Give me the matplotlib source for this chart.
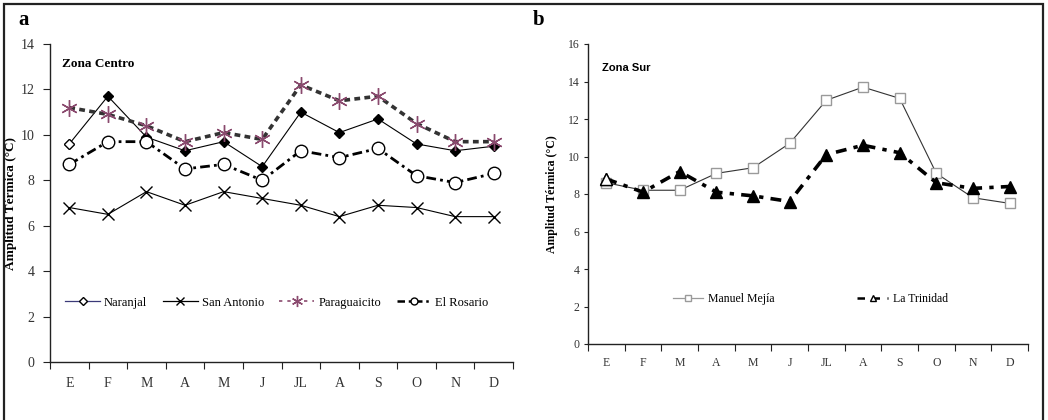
import matplotlib
matplotlib.use('Agg')
import matplotlib.pyplot as plt
from matplotlib.lines import Line2D
from matplotlib.patches import Rectangle
import numpy as np

# Data
meses = ['E', 'F', 'M', 'A', 'M', 'J', 'JL', 'A', 'S', 'O', 'N', 'D']

naranjal = [9.6, 11.7, 9.9, 9.3, 9.7, 8.6, 11.0, 10.1, 10.7, 9.6, 9.3, 9.5]
san_antonio = [6.8, 6.5, 7.5, 6.9, 7.5, 7.2, 6.9, 6.4, 6.9, 6.8, 6.4, 6.4]
paraguaicito = [11.2, 10.9, 10.4, 9.7, 10.1, 9.8, 12.2, 11.5, 11.7, 10.5,
                9.7, 9.7]
el_rosario = [8.7, 9.7, 9.7, 8.5, 8.7, 8.0, 9.3, 9.0, 9.4, 8.2, 7.9, 8.3]

manuel_mejia = [8.6, 8.2, 8.2, 9.1, 9.4, 10.7, 13.0, 13.7, 13.1, 9.1, 7.8,
                7.5]
la_trinidad = [8.8, 8.1, 9.2, 8.1, 7.9, 7.6, 10.1, 10.6, 10.2, 8.6, 8.3, 8.4]

plt.rcParams['font.family'] = ['Liberation Serif', 'DejaVu Serif']

fig = plt.figure(figsize=(10.48, 4.2), dpi=100)
fig.patches.append(Rectangle((4 / 1048, -0.01), 1039 / 1048, 1 - 4 / 420 + 0.01,
                             transform=fig.transFigure, fill=False,
                             edgecolor='#222222', linewidth=1.6))

ax1 = fig.add_axes([50 / 1048, 1 - 362 / 420, 463 / 1048, 318 / 420])
ax2 = fig.add_axes([588 / 1048, 1 - 344 / 420, 440 / 1048, 300 / 420])

x = np.arange(len(meses))


def style_axis(ax, ymax, tsize, xpad, ylen, ypad):
    for s in ['top', 'right']:
        ax.spines[s].set_visible(False)
    for s in ['left', 'bottom']:
        ax.spines[s].set_color('#222222')
        ax.spines[s].set_linewidth(1.0)
    ax.set_xlim(-0.5, len(meses) - 0.5)
    ax.set_ylim(0, ymax)
    ax.set_yticks(np.arange(0, ymax + 1, 2))
    ax.set_xticks(np.arange(-0.5, len(meses), 1))
    ax.set_xticklabels([])
    ax.set_xticks(x, minor=True)
    ax.set_xticklabels(meses, minor=True)
    ax.tick_params(axis='x', which='major', direction='out', length=5,
                   color='#222222')
    ax.tick_params(axis='x', which='minor', length=0, pad=xpad,
                   labelsize=tsize, labelcolor='#333333')
    ax.tick_params(axis='y', direction='out', length=ylen, color='#222222',
                   labelsize=tsize, labelcolor='#333333', pad=ypad)


# Panel a
ax1.plot(x, naranjal, color='black', linewidth=0.8, marker='D',
         markersize=5, markerfacecolor='black', markeredgecolor='black')
ax1.plot(x[:1], naranjal[:1], linestyle='none', marker='D', markersize=5,
         markerfacecolor='white', markeredgecolor='black', markeredgewidth=0.8)
ax1.plot(x, san_antonio, color='black', linewidth=0.8, marker='x',
         markersize=9, markeredgewidth=1.0)
ax1.plot(x, paraguaicito, color='#333333', linewidth=2.6,
         dashes=(1.6, 1.2), marker=(6, 2, 0), markersize=12,
         markeredgecolor='#8a4a6e', markeredgewidth=1.0)
ax1.plot(x, el_rosario, color='black', linewidth=2.0,
         dashes=(3.5, 1.5, 1.0, 1.5), marker='o', markersize=9,
         markerfacecolor='white', markeredgecolor='black',
         markeredgewidth=1.0)
style_axis(ax1, 14, 10, 11, 5, 6)
ax1.set_ylabel('Amplitud Térmica (°C)', fontweight='bold', fontsize=9.5)
ax1.yaxis.set_label_coords(-0.071, 0.5)
ax1.text(0.026, 0.937, 'Zona Centro', transform=ax1.transAxes,
         fontsize=9.5, fontweight='bold', ha='left', va='center')

leg1_handles = [
    Line2D([], [], color='#3b3a78', linewidth=0.9, marker='D', markersize=4,
           markerfacecolor='white', markeredgecolor='black'),
    Line2D([], [], color='black', linewidth=0.9, marker='x', markersize=6),
    Line2D([], [], color='#8a4a6e', linewidth=1.2, dashes=(2, 3),
           marker=(6, 2, 0), markersize=8, markeredgecolor='#8a4a6e'),
    Line2D([], [], color='black', linewidth=1.8, dashes=(3, 1.5, 1, 1.5),
           marker='o', markersize=5, markerfacecolor='white',
           markeredgecolor='black'),
]
ax1.legend(leg1_handles, ['Naranjal', 'San Antonio', 'Paraguaicito',
                          'El Rosario'],
           loc='center left', bbox_to_anchor=(0.022, 0.186), ncol=4,
           frameon=False, fontsize=9, handlelength=2.8, handletextpad=0.3,
           columnspacing=1.25, borderaxespad=0)

# Panel b
ax2.plot(x, manuel_mejia, color='#333333', linewidth=0.8, marker='s',
         markersize=7, markerfacecolor='white', markeredgecolor='#9a9a9a',
         markeredgewidth=1.0)
ax2.plot(x, la_trinidad, color='black', linewidth=2.6,
         dashes=(3.0, 2.0, 1.2, 2.0), marker='^', markersize=8,
         markerfacecolor='black', markeredgecolor='black')
ax2.plot(x[:1], la_trinidad[:1], linestyle='none', marker='^', markersize=8,
         markerfacecolor='white', markeredgecolor='black')
style_axis(ax2, 16, 8.5, 9, 3, 3)
ax2.set_ylabel('Amplitud Térmica (°C)', fontweight='bold', fontsize=8.5)
ax2.yaxis.set_label_coords(-0.068, 0.5)
ax2.text(0.032, 0.92, 'Zona Sur', transform=ax2.transAxes,
         fontsize=8, fontweight='bold', ha='left', va='center',
         family=['Liberation Sans', 'DejaVu Sans'])

leg2_handles = [
    Line2D([], [], color='#9a9a9a', linewidth=0.9, marker='s', markersize=5,
           markerfacecolor='white', markeredgecolor='#9a9a9a'),
    Line2D([], [], color='black', linewidth=1.8, dashes=(3, 3),
           marker='^', markersize=5, markerfacecolor='white',
           markeredgecolor='black'),
]
ax2.legend(leg2_handles, ['Manuel Mejía', 'La Trinidad'],
           loc='center left', bbox_to_anchor=(0.182, 0.15), ncol=2,
           frameon=False, fontsize=8.5, handlelength=2.6, handletextpad=0.4,
           columnspacing=7.0, borderaxespad=0)

fig.text(18 / 1048, 1 - 20 / 420, 'a', fontsize=15, fontweight='bold',
         ha='left', va='center')
fig.text(533 / 1048, 1 - 20 / 420, 'b', fontsize=15, fontweight='bold',
         ha='left', va='center')

plt.savefig('out.png', dpi=100)
